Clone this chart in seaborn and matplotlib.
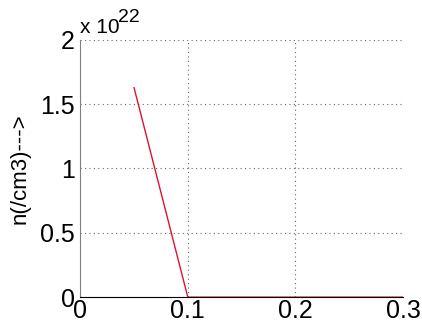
import numpy as np
import pandas as pd
import seaborn as sns
import matplotlib.pyplot as plt

# values
x_vals = [0.05, 0.1, 0.15, 0.2, 0.25, 0.3]
n_vals = [1.63e22, 0.0, 0.0, 0.0, 0.0, 0.0]
x_ticks = [0, 0.1, 0.2, 0.3]
y_ticks = [0, 0.5, 1, 1.5, 2]
y_tick_labels = ['0', '0.5', '1', '1.5', '2']
scale = 1e22

df = pd.DataFrame({'x': x_vals, 'n': np.array(n_vals) / scale})

sns.set_style('white')
plt.rcParams['font.family'] = ['Liberation Sans', 'DejaVu Sans']

fig = plt.figure(figsize=(4.22, 3.32), dpi=100)
ax = fig.add_axes([0.19, 0.105, 0.765, 0.775])

sns.lineplot(data=df, x='x', y='n', color='#dd1133', linewidth=1, ax=ax)

ax.set_xlim(0, 0.3)
ax.set_ylim(0, 2)
ax.set_xticks(x_ticks)
ax.set_xticklabels(['0', '0.1', '0.2', '0.3'])
ax.set_yticks(y_ticks)
ax.set_yticklabels(y_tick_labels)
ax.tick_params(labelsize=18, length=0, colors='black')
ax.tick_params(axis='y', pad=4)
ax.tick_params(axis='x', pad=1)
ax.grid(True, linestyle=(0, (1, 3)), color='#666666', linewidth=0.8)

ax.spines['top'].set_visible(False)
ax.spines['right'].set_visible(False)
ax.spines['left'].set_color('#808080')
ax.spines['bottom'].set_color('black')

ax.set_xlabel('')
ax.set_ylabel('n(/cm3)--->', fontsize=16, color='black')
ax.yaxis.set_label_coords(-0.155, 0.5)

# multiplier written the MATLAB way
ax.text(0.0, 1.027, 'x 10', transform=ax.transAxes, fontsize=15,
        ha='left', va='baseline', color='black')
ax.text(0.118, 1.07, '22', transform=ax.transAxes, fontsize=14,
        ha='left', va='baseline', color='black')

fig.savefig('out.png', dpi=100, facecolor='white')
